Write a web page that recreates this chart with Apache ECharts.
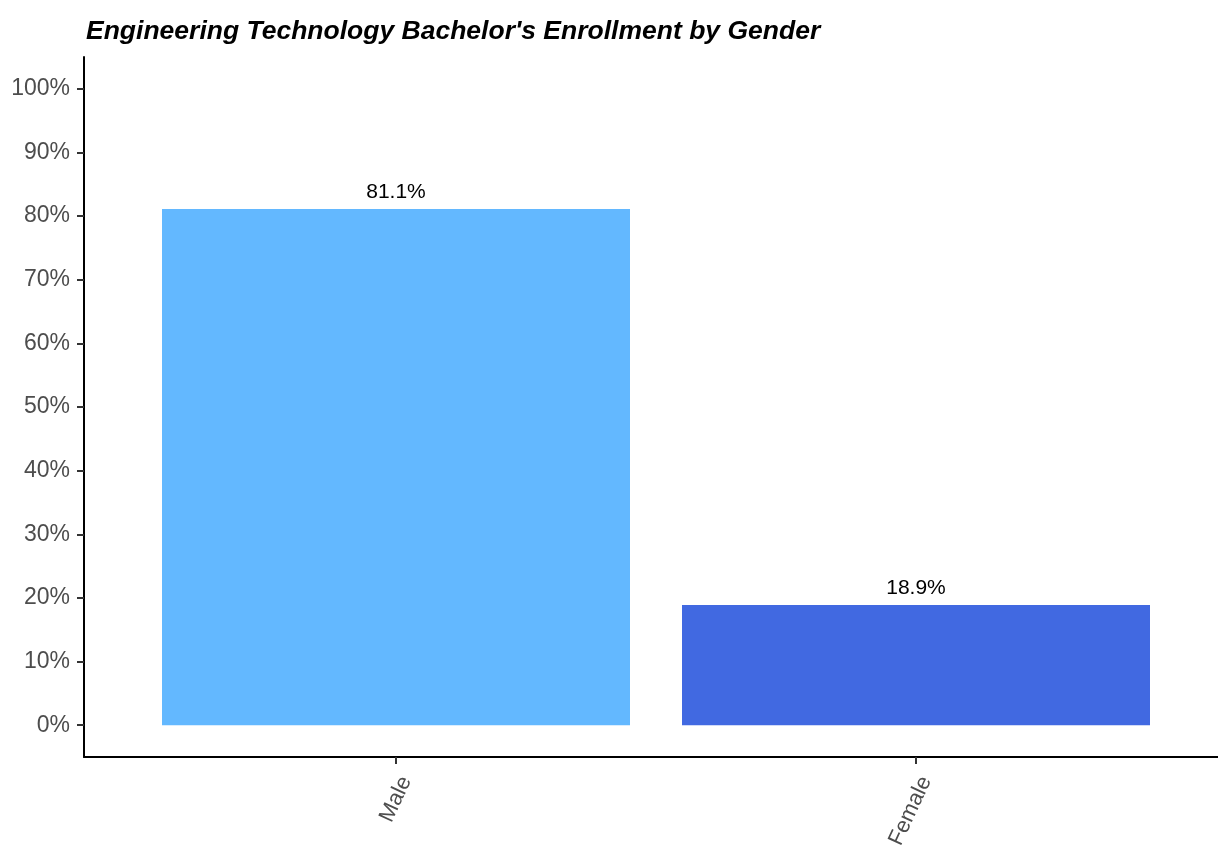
<!DOCTYPE html>
<html>
<head>
<meta charset="utf-8">
<script src="https://cdn.jsdelivr.net/npm/echarts@6/dist/echarts.min.js"></script>
<style>
  html, body { margin: 0; padding: 0; background: #ffffff; }
  #chart { width: 1218px; height: 845px; }
</style>
</head>
<body>
<div id="chart"></div>
<script>
// Enrollment share by gender
const categories = ['Male', 'Female'];
const shares = [81.1, 18.9];
const barColors = ['#63B8FF', '#4169E1'];
const yTicks = [0, 10, 20, 30, 40, 50, 60, 70, 80, 90, 100];

const positions = categories.map((_, i) => i + 1);
const seriesData = categories.map((c, i) => [positions[i], shares[i], i]);

const chart = echarts.init(document.getElementById('chart'), null, { renderer: 'canvas' });

const font = 'Liberation Sans, Arial, Helvetica, sans-serif';

chart.setOption({
  backgroundColor: '#ffffff',
  animation: false,
  title: {
    text: "Engineering Technology Bachelor's Enrollment by Gender",
    left: 81,
    top: 13,
    textStyle: {
      fontFamily: font,
      fontSize: 26.5,
      fontWeight: 'bold',
      fontStyle: 'italic',
      color: '#000000'
    }
  },
  // the panel runs slightly past the right edge of the canvas
  grid: {
    left: 84, width: 1144, top: 57, bottom: 88,
    containLabel: false,
    outerBoundsMode: 'none'
  },
  xAxis: {
    type: 'value',
    min: 0.4,
    max: 2.6,
    splitLine: { show: false },
    axisLine: { show: true, onZero: false, lineStyle: { color: '#000000', width: 2 } },
    axisTick: { show: true, customValues: positions, length: 7, lineStyle: { color: '#333333', width: 2 } },
    axisLabel: {
      customValues: positions,
      rotate: 65,
      margin: 16,
      verticalAlign: 'top',
      fontFamily: font,
      fontSize: 22,
      color: '#4d4d4d',
      formatter: v => categories[Math.round(v) - 1] || ''
    }
  },
  yAxis: {
    type: 'value',
    min: -5,
    max: 105,
    splitLine: { show: false },
    axisLine: { show: true, onZero: false, lineStyle: { color: '#000000', width: 2 } },
    axisTick: { show: true, customValues: yTicks, length: 7, lineStyle: { color: '#333333', width: 2 } },
    axisLabel: {
      customValues: yTicks,
      margin: 14,
      fontFamily: font,
      fontSize: 23,
      color: '#4d4d4d',
      formatter: v => v + '%'
    }
  },
  series: [{
    type: 'custom',
    data: seriesData,
    encode: { x: 0, y: 1 },
    renderItem: function (params, api) {
      const x = api.value(0);
      const v = api.value(1);
      const idx = api.value(2);
      const top = api.coord([x, v]);
      const base = api.coord([x, 0]);
      const w = api.size([0.9, 0])[0];
      return {
        type: 'group',
        children: [
          {
            type: 'rect',
            shape: { x: top[0] - w / 2, y: top[1], width: w, height: base[1] - top[1] },
            style: { fill: barColors[idx] }
          },
          {
            type: 'text',
            x: top[0],
            y: top[1] - 6,
            style: {
              text: v.toFixed(1) + '%',
              fontFamily: font,
              fontSize: 21,
              fill: '#000000',
              align: 'center',
              verticalAlign: 'bottom'
            }
          }
        ]
      };
    }
  }]
});
</script>
</body>
</html>
